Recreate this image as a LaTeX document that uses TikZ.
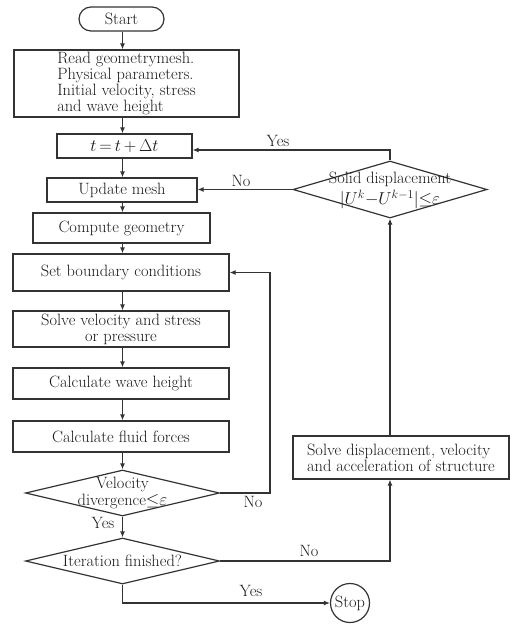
\documentclass[tikz,border=0pt]{standalone}
\usetikzlibrary{arrows.meta,shapes.geometric,calc}
\begin{document}
\begin{tikzpicture}[x=1pt,y=-1pt,
  every node/.style={font=\fontsize{16.4}{16.2}\selectfont, text=black!90},
  box/.style={draw=black!80, line width=1.2pt, rectangle, inner sep=0pt},
  dia/.style={draw=black!80, line width=1.2pt, diamond, inner sep=0pt},
  conn/.style={draw=black!80, line width=1.2pt},
  arr/.style={conn, -{Latex[length=6pt,width=5pt]}},
  lbl/.style={inner sep=0pt}]
\useasboundingbox (0,0) rectangle (517,634);
\coordinate (col) at (122.5,0);
\coordinate (rx) at (390,0);
\coordinate (nx) at (270,0);
% left column
\node[box, rounded corners=12pt, minimum width=85pt, minimum height=24pt] (start) at (121.5,19) {Start};
\node[box, minimum width=225pt, minimum height=67pt, align=left] (read) at (126.5,83.5) {Read geometrymesh.\\Physical parameters.\\Initial velocity, stress\\and wave height};
\node[box, minimum width=135pt, minimum height=24pt] (t) at (124.5,146) {$t\,{=}\,t\,{+}\,\Delta t$};
\node[box, minimum width=150pt, minimum height=24pt] (upd) at (122,190) {Update mesh};
\node[box, minimum width=177pt, minimum height=30pt] (comp) at (121.5,228) {Compute geometry};
\node[box, minimum width=216pt, minimum height=37pt] (set) at (121,272.5) {Set boundary conditions};
\node[box, minimum width=216pt, minimum height=36pt, align=center] (solv) at (121,329) {Solve velocity and stress\\or pressure};
\node[box, minimum width=216pt, minimum height=31pt] (wave) at (121,383.5) {Calculate wave height};
\node[box, minimum width=216pt, minimum height=31pt] (fluid) at (121,436.5) {Calculate fluid forces};
\node[dia, minimum width=194pt, minimum height=46pt] (vd) at (122.5,493) {};
\node[align=center, inner sep=0pt] (vdt) at (vd) {Velocity\\divergence${\leq}\varepsilon$};
\node[dia, minimum width=194pt, minimum height=46pt] (it) at (122.5,561) {};
\node[inner sep=0pt] (itt) at (it) {Iteration finished?};
\node[draw=black!80, line width=1.2pt, circle, minimum size=39pt, inner sep=0pt] (stop) at (350,603) {Stop};
% right column
\node[box, minimum width=216pt, minimum height=43pt, align=left] (sdisp) at (401,457.5) {Solve displacement, velocity\\and acceleration of structure};
\node[dia, minimum width=194pt, minimum height=57pt] (sd) at (390,189.5) {};
\node[align=center, inner sep=0pt] (sdt) at ($(sd)+(0,1)$) {Solid displacement\\[3pt]$\big|U^k{-}U^{k-1}\big|{\leq}\varepsilon$};
\coordinate (tin) at ($(t.east)+(0,4)$);
% connectors
\draw[arr] (start.south -| col) -- (read.north -| col);
\draw[arr] (read.south -| col) -- (t.north -| col);
\draw[arr] (t.south -| col) -- (upd.north -| col);
\draw[arr] (upd.south -| col) -- (comp.north -| col);
\draw[arr] (comp.south -| col) -- (set.north -| col);
\draw[arr] (set.south -| col) -- (solv.north -| col);
\draw[arr] (solv.south -| col) -- (wave.north -| col);
\draw[arr] (wave.south -| col) -- (fluid.north -| col);
\draw[arr] (fluid.south -| col) -- (vd.north);
\draw[arr] (vd.south) -- (it.north);
\draw[arr] (vd.east) -- (vd.east -| nx) -- (nx |- set.east) -- (set.east);
\draw[arr] (it.east) -- (it.east -| rx) -- (rx |- sdisp.south);
\draw[arr] (sdisp.north -| rx) -- (sd.south);
\draw[arr] (sd.west) -- (upd.east |- sd.west);
\draw[arr] (sd.north) -- (sd.north |- tin) -- (tin);
\draw[arr] (it.south) -- (it.south |- stop) -- (stop.west);
% labels
\node[lbl] (yes1) at (278,141) {Yes};
\node[lbl] (no1) at (241,181) {No};
\node[lbl] (no2) at (253,502) {No};
\node[lbl] (yes2) at (103,523) {Yes};
\node[lbl] (no3) at (309,551) {No};
\node[lbl] (yes3) at (251,591) {Yes};
\end{tikzpicture}
\end{document}
